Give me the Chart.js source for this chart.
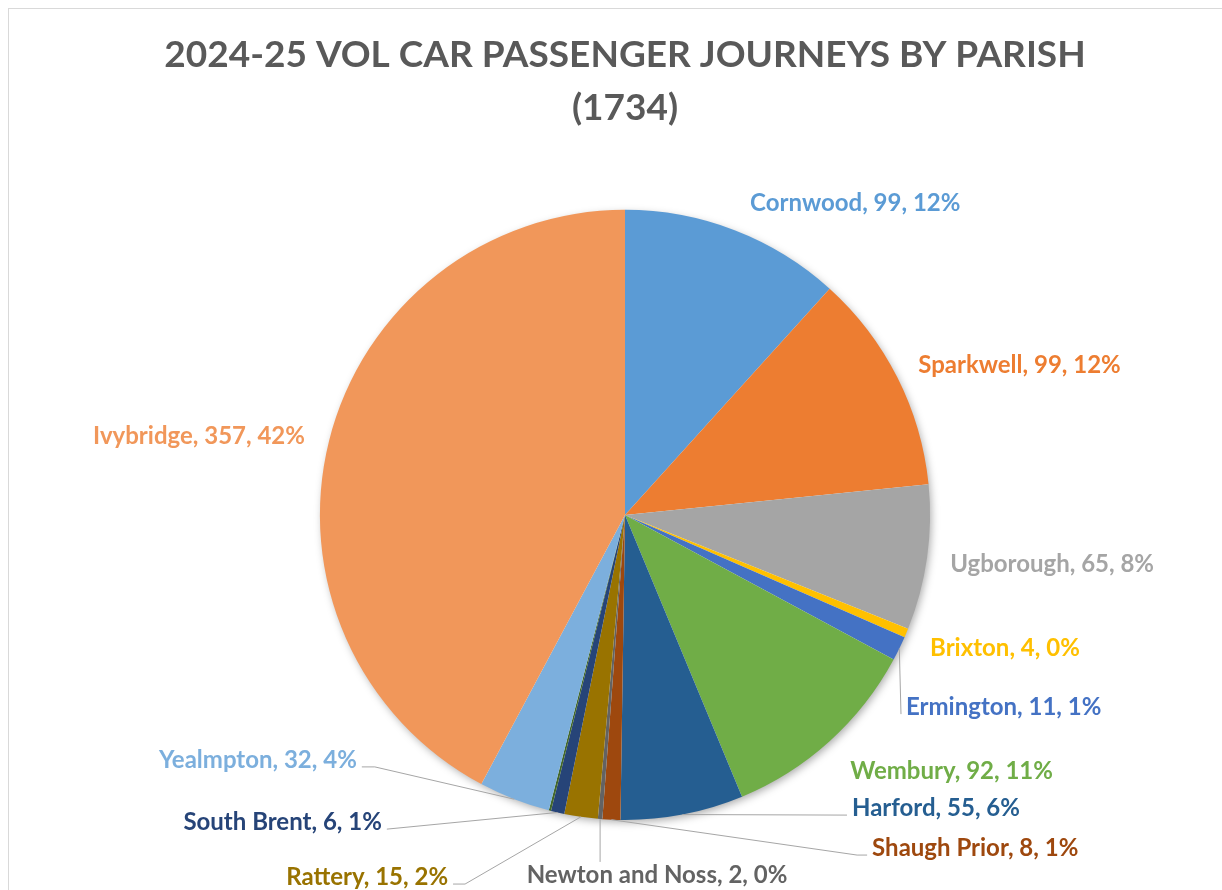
<!DOCTYPE html>
<html>
<head>
<meta charset="utf-8">
<script src="https://cdn.jsdelivr.net/npm/chart.js@4"></script>
<style>
  html, body { margin: 0; padding: 0; background: #fff; }
  canvas { display: block; }
</style>
</head>
<body>
<canvas id="parishChart" width="1222" height="890"></canvas>
<script>
// values, clockwise from 12 o'clock
const parishes = ['Cornwood', 'Sparkwell', 'Ugborough', 'Brixton', 'Ermington', 'Wembury', 'Harford',
    'Shaugh Prior', 'Newton and Noss', 'Rattery', 'South Brent', '', 'Yealmpton', 'Ivybridge'];
const journeys = [99, 99, 65, 4, 11, 92, 55, 8, 2, 15, 6, 1, 32, 357];
// percentages as printed on the labels
const shownPercent = [12, 12, 8, 0, 1, 11, 6, 1, 0, 2, 1, null, 4, 42];
const titleLines = ['2024-25 VOL CAR PASSENGER JOURNEYS BY PARISH', '(1734)'];

const sliceColours = ['#5B9BD5', '#ED7D31', '#A5A5A5', '#FFC000', '#4472C4', '#70AD47', '#255E91',
    '#9E480E', '#636363', '#997300', '#264478', '#43682B', '#7CAFDD', '#F1975A'];

// where each label sits, in pie radii from the centre: [dx, dy, align, leader]
// leader: null = none, number = elbow length, 'top' = straight down onto the text
const labelSpots = [
    [0.410, -1.023, 'left', null],
    [0.961, -0.492, 'left', null],
    [1.066, 0.161, 'left', null],
    [1.000, 0.436, 'left', null],
    [0.921, 0.630, 'left', 0],
    [0.738, 0.839, 'left', null],
    [0.744, 0.961, 'left', 0],
    [0.810, 1.092, 'left', 10],
    [0.105, 1.180, 'center', 'top'],
    [-0.580, 1.187, 'right', 12],
    [-0.797, 1.007, 'right', 0],
    null,
    [-0.879, 0.803, 'right', 13],
    [-1.049, -0.259, 'right', null]
];

const labelFont = 'bold 24px Lato';

const framePlugin = {
    id: 'frame',
    beforeDraw: chart => {
        const ctx = chart.ctx;
        ctx.save();
        ctx.fillStyle = '#fff';
        ctx.fillRect(0, 0, chart.width, chart.height);
        ctx.strokeStyle = '#D9D9D9';
        ctx.lineWidth = 1;
        ctx.strokeRect(8.5, 8.5, chart.width + 20, chart.height + 20);
        ctx.restore();
    }
};

// soft shadow under the whole pie
const shadowPlugin = {
    id: 'pieShadow',
    beforeDatasetsDraw: chart => {
        const arc = chart.getDatasetMeta(0).data[0];
        if (!arc) return;
        const ctx = chart.ctx;
        ctx.save();
        ctx.shadowColor = 'rgba(0,0,0,0.35)';
        ctx.shadowBlur = 9;
        ctx.shadowOffsetX = 2;
        ctx.shadowOffsetY = 3;
        ctx.fillStyle = '#fff';
        ctx.beginPath();
        ctx.arc(arc.x, arc.y, arc.outerRadius - 1, 0, Math.PI * 2);
        ctx.fill();
        ctx.restore();
    }
};

const labelPlugin = {
    id: 'sliceLabels',
    afterDatasetsDraw: chart => {
        const ctx = chart.ctx;
        const arcs = chart.getDatasetMeta(0).data;
        ctx.save();
        ctx.font = labelFont;
        ctx.textBaseline = 'middle';
        arcs.forEach((arc, i) => {
            const spot = labelSpots[i];
            if (!spot) return;
            const r = arc.outerRadius;
            const lx = arc.x + spot[0] * r;
            const ly = arc.y + spot[1] * r;
            const text = `${parishes[i]}, ${journeys[i]}, ${shownPercent[i]}%`;
            const w = ctx.measureText(text).width;
            const left = spot[2] === 'left' ? lx : spot[2] === 'right' ? lx - w : lx - w / 2;

            const leader = spot[3];
            if (leader !== null) {
                const mid = (arc.startAngle + arc.endAngle) / 2;
                const ex = arc.x + Math.cos(mid) * r;
                const ey = arc.y + Math.sin(mid) * r;
                ctx.strokeStyle = '#A6A6A6';
                ctx.lineWidth = 1;
                ctx.beginPath();
                ctx.moveTo(ex, ey);
                if (leader === 'top') {
                    ctx.lineTo(ex, ly - 13);
                } else if (spot[2] === 'left') {
                    ctx.lineTo(left - 5 - leader, ly + 7);
                    ctx.lineTo(left - 5, ly + 7);
                } else {
                    ctx.lineTo(left + w + 5 + leader, ly + 7);
                    ctx.lineTo(left + w + 5, ly + 7);
                }
                ctx.stroke();
            }

            ctx.fillStyle = sliceColours[i];
            ctx.textAlign = 'left';
            ctx.fillText(text, left, ly);
        });
        ctx.restore();
    }
};

const ctx = document.getElementById('parishChart').getContext('2d');
const parishChart = new Chart(ctx, {
    type: 'pie',
    data: {
        labels: parishes,
        datasets: [{
            data: journeys,
            backgroundColor: sliceColours,
            borderWidth: 0,
            hoverOffset: 0
        }]
    },
    options: {
        responsive: false,
        animation: false,
        events: [],
        layout: {
            padding: { top: 0, bottom: 70, left: 28, right: 0 }
        },
        plugins: {
            legend: { display: false },
            tooltip: { enabled: false },
            title: {
                display: true,
                text: titleLines,
                color: '#595959',
                font: { family: 'Lato', size: 37, weight: 'bold', lineHeight: 1.43 },
                padding: { top: 29, bottom: 75 }
            }
        }
    },
    plugins: [framePlugin, shadowPlugin, labelPlugin]
});
</script>
</body>
</html>
